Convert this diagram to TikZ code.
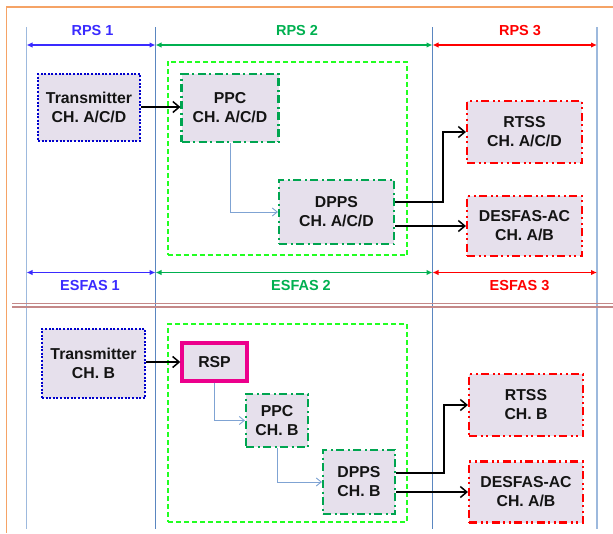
\documentclass[tikz,border=0pt]{standalone}
\usepackage{fontspec}
\setmainfont{Liberation Sans}
\usetikzlibrary{arrows.meta}

\definecolor{boxfill}{HTML}{E6E0EC}
\definecolor{frameorange}{HTML}{F5A366}
\definecolor{guidelight}{HTML}{9DB9DD}
\definecolor{guidedark}{HTML}{5A86C0}
\definecolor{spanblue}{HTML}{3A2BFF}
\definecolor{spangreen}{HTML}{00B050}
\definecolor{spanred}{HTML}{FF0000}
\definecolor{dotblue}{HTML}{0000CC}
\definecolor{procgreen}{HTML}{00A550}
\definecolor{groupgreen}{HTML}{22FF22}
\definecolor{linkblue}{HTML}{7FA3D3}
\definecolor{splitrose}{HTML}{C48888}
\definecolor{ink}{HTML}{141414}

\begin{document}
\begin{tikzpicture}[x=1pt,y=-1pt,
  box/.style={fill=boxfill, inner sep=0pt, align=center, text=ink,
    font=\fontsize{15.8}{19}\selectfont\bfseries},
  txbox/.style={box, draw=dotblue, line width=2pt, dash pattern=on 2pt off 1.6pt},
  procbox/.style={box, draw=procgreen, line width=2.1pt,
    dash pattern=on 8pt off 3.5pt on 2pt off 3.5pt},
  outbox/.style={box, draw=spanred, line width=2.1pt,
    dash pattern=on 8pt off 3.5pt on 2pt off 3.5pt on 2pt off 3.5pt},
  rspbox/.style={box, draw=magenta, line width=3.4pt},
  group/.style={draw=groupgreen, line width=2pt, dash pattern=on 5pt off 3pt,
    inner sep=0pt},
  sig/.style={-{Straight Barb[length=6.5pt,width=11pt]}, line width=1.5pt, black},
  link/.style={-{Straight Barb[length=5pt,width=8pt]}, line width=0.9pt, linkblue},
  span/.style={{Latex[length=6pt,width=5.5pt]}-{Latex[length=6pt,width=5.5pt]}, line width=1.5pt},
  lbl/.style={font=\fontsize{14.5}{16}\selectfont\bfseries},
  guide/.style={line width=1pt}
]
\useasboundingbox (0,0) rectangle (613,533);

% outer frame
\draw[frameorange, line width=1.4pt] (6.5,533) -- (6.5,7) -- (613,7);

% column guides
\coordinate (g1t) at (26.5,27);  \coordinate (g1b) at (26.5,529);
\coordinate (g2t) at (155.5,27); \coordinate (g2b) at (155.5,529);
\coordinate (g3t) at (432.5,27); \coordinate (g3b) at (432.5,529);
\coordinate (g4t) at (597,27);   \coordinate (g4b) at (597,529);
\draw[guide, guidelight, line width=1.6pt] (g1t) -- (g1b);
\draw[guide, guidedark] (g2t) -- (g2b);
\draw[guide, guidedark] (g3t) -- (g3b);
\draw[guide, guidelight, line width=1.6pt] (g4t) -- (g4b);

% RPS spans
\draw[span, spanblue]  (g1t |- 0,45) -- (g2t |- 0,45);
\draw[span, spangreen] (g2t |- 0,45) -- (g3t |- 0,45);
\draw[span, spanred]   (g3t |- 0,45) -- (g4t |- 0,45);
\node[lbl, text=spanblue]  (rps1) at (92.5,31) {RPS 1};
\node[lbl, text=spangreen] (rps2) at (297,31) {RPS 2};
\node[lbl, text=spanred]   (rps3) at (520,31) {RPS 3};

% ESFAS spans
\draw[span, spanblue]  (g1t |- 0,272.5) -- (g2t |- 0,272.5);
\draw[span, spangreen] (g2t |- 0,272.5) -- (g3t |- 0,272.5);
\draw[span, spanred]   (g3t |- 0,272.5) -- (g4t |- 0,272.5);
\node[lbl, text=spanblue]  (esf1) at (90,286) {ESFAS 1};
\node[lbl, text=spangreen] (esf2) at (301,286) {ESFAS 2};
\node[lbl, text=spanred]   (esf3) at (519.5,286) {ESFAS 3};

% separator
\draw[splitrose, line width=1.6pt] (12,303.3) -- (613,303.3);
\draw[splitrose, line width=1.6pt] (12,306.7) -- (613,306.7);

% ---------- RPS channels A/C/D ----------
\node[group, minimum width=239.6pt, minimum height=193.3pt] (grpA) at (287.5,158.35) {};
\node[txbox, minimum width=102pt, minimum height=67pt] (txA) at (89,107.5) {Transmitter\\CH. A/C/D};
\node[procbox, minimum width=97pt, minimum height=68pt] (ppcA) at (230,108) {PPC\\CH. A/C/D};
\node[procbox, minimum width=115pt, minimum height=64pt] (dppsA) at (336.5,212) {DPPS\\CH. A/C/D};
\node[outbox, minimum width=115pt, minimum height=62pt] (rtssA) at (524.5,132) {RTSS\\CH. A/C/D};
\node[outbox, minimum width=115pt, minimum height=60pt] (desA) at (524.5,226) {DESFAS-AC\\CH. A/B};

\draw[sig] (txA.east |- 0,107) -- (ppcA.west |- 0,107);
\draw[link] (ppcA.south) |- (dppsA.west);
\coordinate (bendA) at (443,202);
\draw[sig] (dppsA.east |- bendA) -- (bendA) |- (rtssA.west);
\draw[sig] (dppsA.east |- desA.west) -- (desA.west);

% ---------- ESFAS channel B ----------
\node[group, minimum width=239pt, minimum height=198pt] (grpB) at (287.5,423) {};
\node[txbox, minimum width=103pt, minimum height=69pt] (txB) at (93.5,363.5) {Transmitter\\CH. B};
\node[rspbox, minimum width=65pt, minimum height=38pt] (rsp) at (214.5,362) {RSP};
\node[procbox, minimum width=62pt, minimum height=53pt] (ppcB) at (277,420.5) {PPC\\CH. B};
\node[procbox, minimum width=72pt, minimum height=64pt] (dppsB) at (359,482) {DPPS\\CH. B};
\node[outbox, minimum width=114pt, minimum height=62pt] (rtssB) at (526,405) {RTSS\\CH. B};
\node[outbox, minimum width=114pt, minimum height=61pt] (desB) at (526,492) {DESFAS-AC\\CH. A/B};

\draw[sig] (txB.east |- rsp.west) -- (rsp.west);
\draw[link] (rsp.south) |- (ppcB.west);
\draw[link] (ppcB.south) |- (dppsB.west);
\coordinate (bendB) at (444,473);
\draw[sig] (dppsB.east |- bendB) -- (bendB) |- (rtssB.west);
\draw[sig] (dppsB.east |- desB.west) -- (desB.west);
\end{tikzpicture}
\end{document}
